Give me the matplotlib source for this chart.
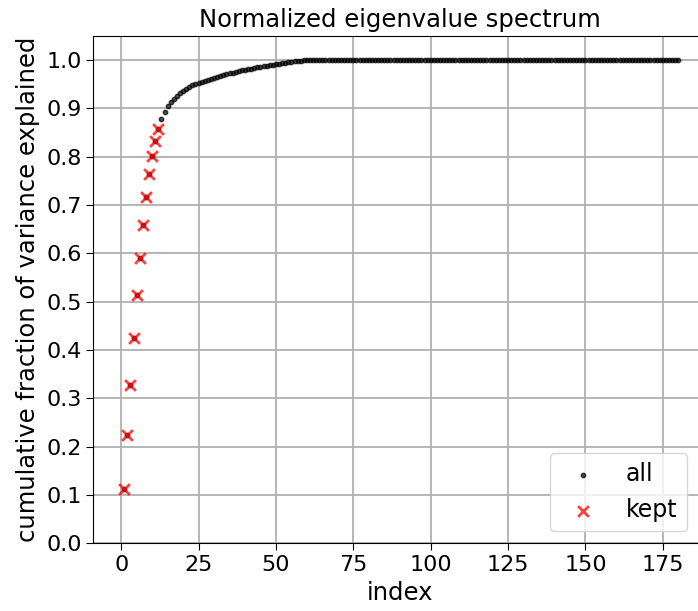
import matplotlib
matplotlib.use("agg")
import matplotlib.pyplot as plt
import numpy as np

# cumulative explained variance
kept_vals = [0.113, 0.223, 0.328, 0.425, 0.513, 0.590,
             0.658, 0.716, 0.763, 0.802, 0.833, 0.858]

rest_vals = [0.877, 0.892, 0.904, 0.913, 0.920, 0.926, 0.931, 0.936,
             0.940, 0.944, 0.947, 0.950, 0.953, 0.955, 0.957, 0.959,
             0.961, 0.963, 0.965, 0.967, 0.969, 0.970, 0.972, 0.973,
             0.975, 0.976, 0.978, 0.979, 0.981, 0.982, 0.983, 0.985,
             0.986, 0.987, 0.988, 0.989, 0.990, 0.991, 0.992, 0.993,
             0.994, 0.995, 0.996, 0.997, 0.998, 0.998, 0.999, 1.000]

flat_vals = [1.0] * 120

all_vals = kept_vals + rest_vals + flat_vals
all_idx = np.arange(1, len(all_vals) + 1)
kept_idx = np.arange(1, len(kept_vals) + 1)

plt.rcParams['font.size'] = 16

fig = plt.figure(figsize=(6.98, 6.11), dpi=100)
ax = fig.add_axes([0.1337, 0.1108, 0.878, 0.8308])

ax.grid(True, color='#b0b0b0', linewidth=1.3, zorder=0)
ax.set_axisbelow(True)

ax.scatter(all_idx, all_vals, marker='.', s=40, color='black', alpha=0.7,
           label='all', zorder=2)
ax.scatter(kept_idx, kept_vals, marker='x', s=60, linewidths=2,
           color='red', alpha=0.75, label='kept', zorder=3)

ax.set_xlim(-9, 189)
ax.set_ylim(0, 1.05)
ax.set_xticks(np.arange(0, 176, 25))
ax.set_yticks(np.arange(0, 1.01, 0.1))
ax.tick_params(labelsize=16, length=5)

ax.set_title('Normalized eigenvalue spectrum', fontsize=17.5)
ax.set_xlabel('index', fontsize=17.5)
ax.set_ylabel('cumulative fraction of variance explained', fontsize=17.5)

ax.legend(loc='lower right', fontsize=17, scatterpoints=1,
          bbox_to_anchor=(0.9875, 0.0), borderaxespad=0.5)

fig.savefig('out.png', dpi=100)
